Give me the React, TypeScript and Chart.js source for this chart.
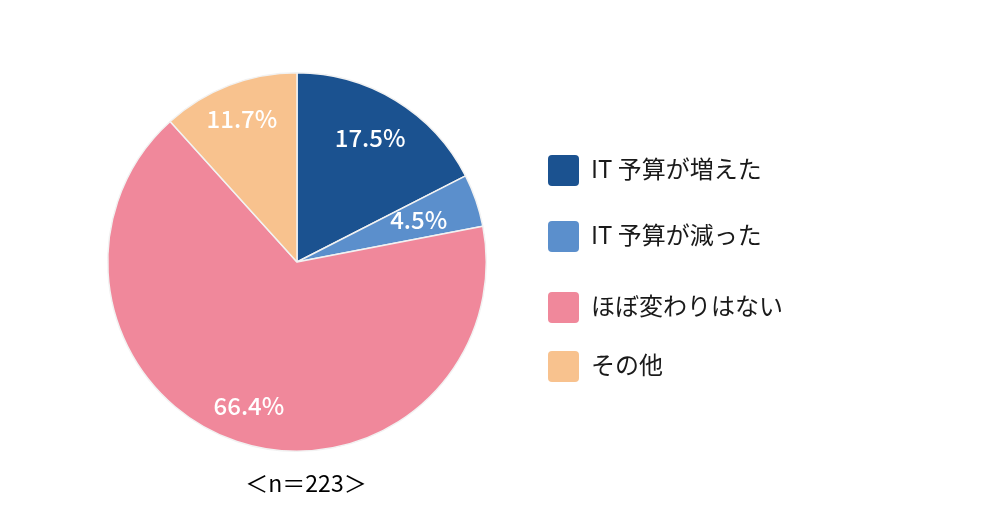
import React, { useEffect, useRef } from "react";
import { Chart, registerables } from "chart.js";

Chart.register(...registerables);

const categories = ["IT 予算が増えた", "IT 予算が減った", "ほぼ変わりはない", "その他"];
const values = [17.5, 4.5, 66.4, 11.7];
const colors = ["#1b5290", "#5b8fcc", "#f0889b", "#f8c28e"];
const labelRadiusFactor = [0.77, 0.68, 0.8, 0.81];
const sampleNote = "＜n＝223＞";

const FONT = '"Noto Sans CJK JP", "Noto Sans", sans-serif';

const labelPlugin = {
  id: "sliceLabels",
  afterDatasetsDraw(chart: any) {
    const ctx = chart.ctx;
    const meta = chart.getDatasetMeta(0);
    ctx.save();
    ctx.fillStyle = "#ffffff";
    ctx.font = `500 24px ${FONT}`;
    ctx.textAlign = "center";
    ctx.textBaseline = "middle";
    meta.data.forEach((arc: any, i: number) => {
      const { x, y, startAngle, endAngle, outerRadius } = arc.getProps(
        ["x", "y", "startAngle", "endAngle", "outerRadius"],
        true
      );
      const mid = (startAngle + endAngle) / 2;
      const r = outerRadius * labelRadiusFactor[i];
      ctx.fillText(values[i].toFixed(1) + "%", x + Math.cos(mid) * r - (i === 0 ? 3 : 0), y + Math.sin(mid) * r);
    });
    ctx.restore();
  },
};

export default function App() {
  const canvasRef = useRef<HTMLCanvasElement | null>(null);

  useEffect(() => {
    document.body.style.margin = "0";
    const chart = new Chart(canvasRef.current as HTMLCanvasElement, {
      type: "pie",
      data: {
        labels: categories,
        datasets: [
          {
            data: values,
            backgroundColor: colors,
            borderColor: "#f2f2f2",
            borderWidth: 1.5,
          },
        ],
      },
      options: {
        animation: false,
        responsive: false,
        layout: { padding: { top: 72, bottom: 73, left: 107, right: 513 } },
        plugins: {
          legend: { display: false },
          tooltip: { enabled: false },
        },
      },
      plugins: [labelPlugin],
    });
    return () => chart.destroy();
  }, []);

  const legendTops = [155, 221, 292, 351];

  return (
    <div style={{ position: "relative", width: 1000, height: 525, background: "#fff", fontFamily: FONT }}>
      <canvas ref={canvasRef} width={1000} height={525} style={{ position: "absolute", left: 0, top: 0 }} />
      {categories.map((c, i) => (
        <div
          key={c}
          style={{ position: "absolute", left: 548, top: legendTops[i], height: 31, display: "flex", alignItems: "center" }}
        >
          <div style={{ width: 31, height: 31, borderRadius: 4, background: colors[i] }} />
          <span
            style={{
              marginLeft: 12,
              fontSize: 24,
              lineHeight: "31px",
              color: "#1a1a1a",
              whiteSpace: "nowrap",
              position: "relative",
              top: -3,
            }}
          >
            {c}
          </span>
        </div>
      ))}
      <div
        style={{
          position: "absolute",
          left: 200,
          width: 200,
          top: 466,
          lineHeight: "32px",
          textAlign: "center",
          fontSize: 23,
          color: "#000",
          whiteSpace: "nowrap",
          paddingLeft: 6,
        }}
      >
        {sampleNote}
      </div>
    </div>
  );
}
